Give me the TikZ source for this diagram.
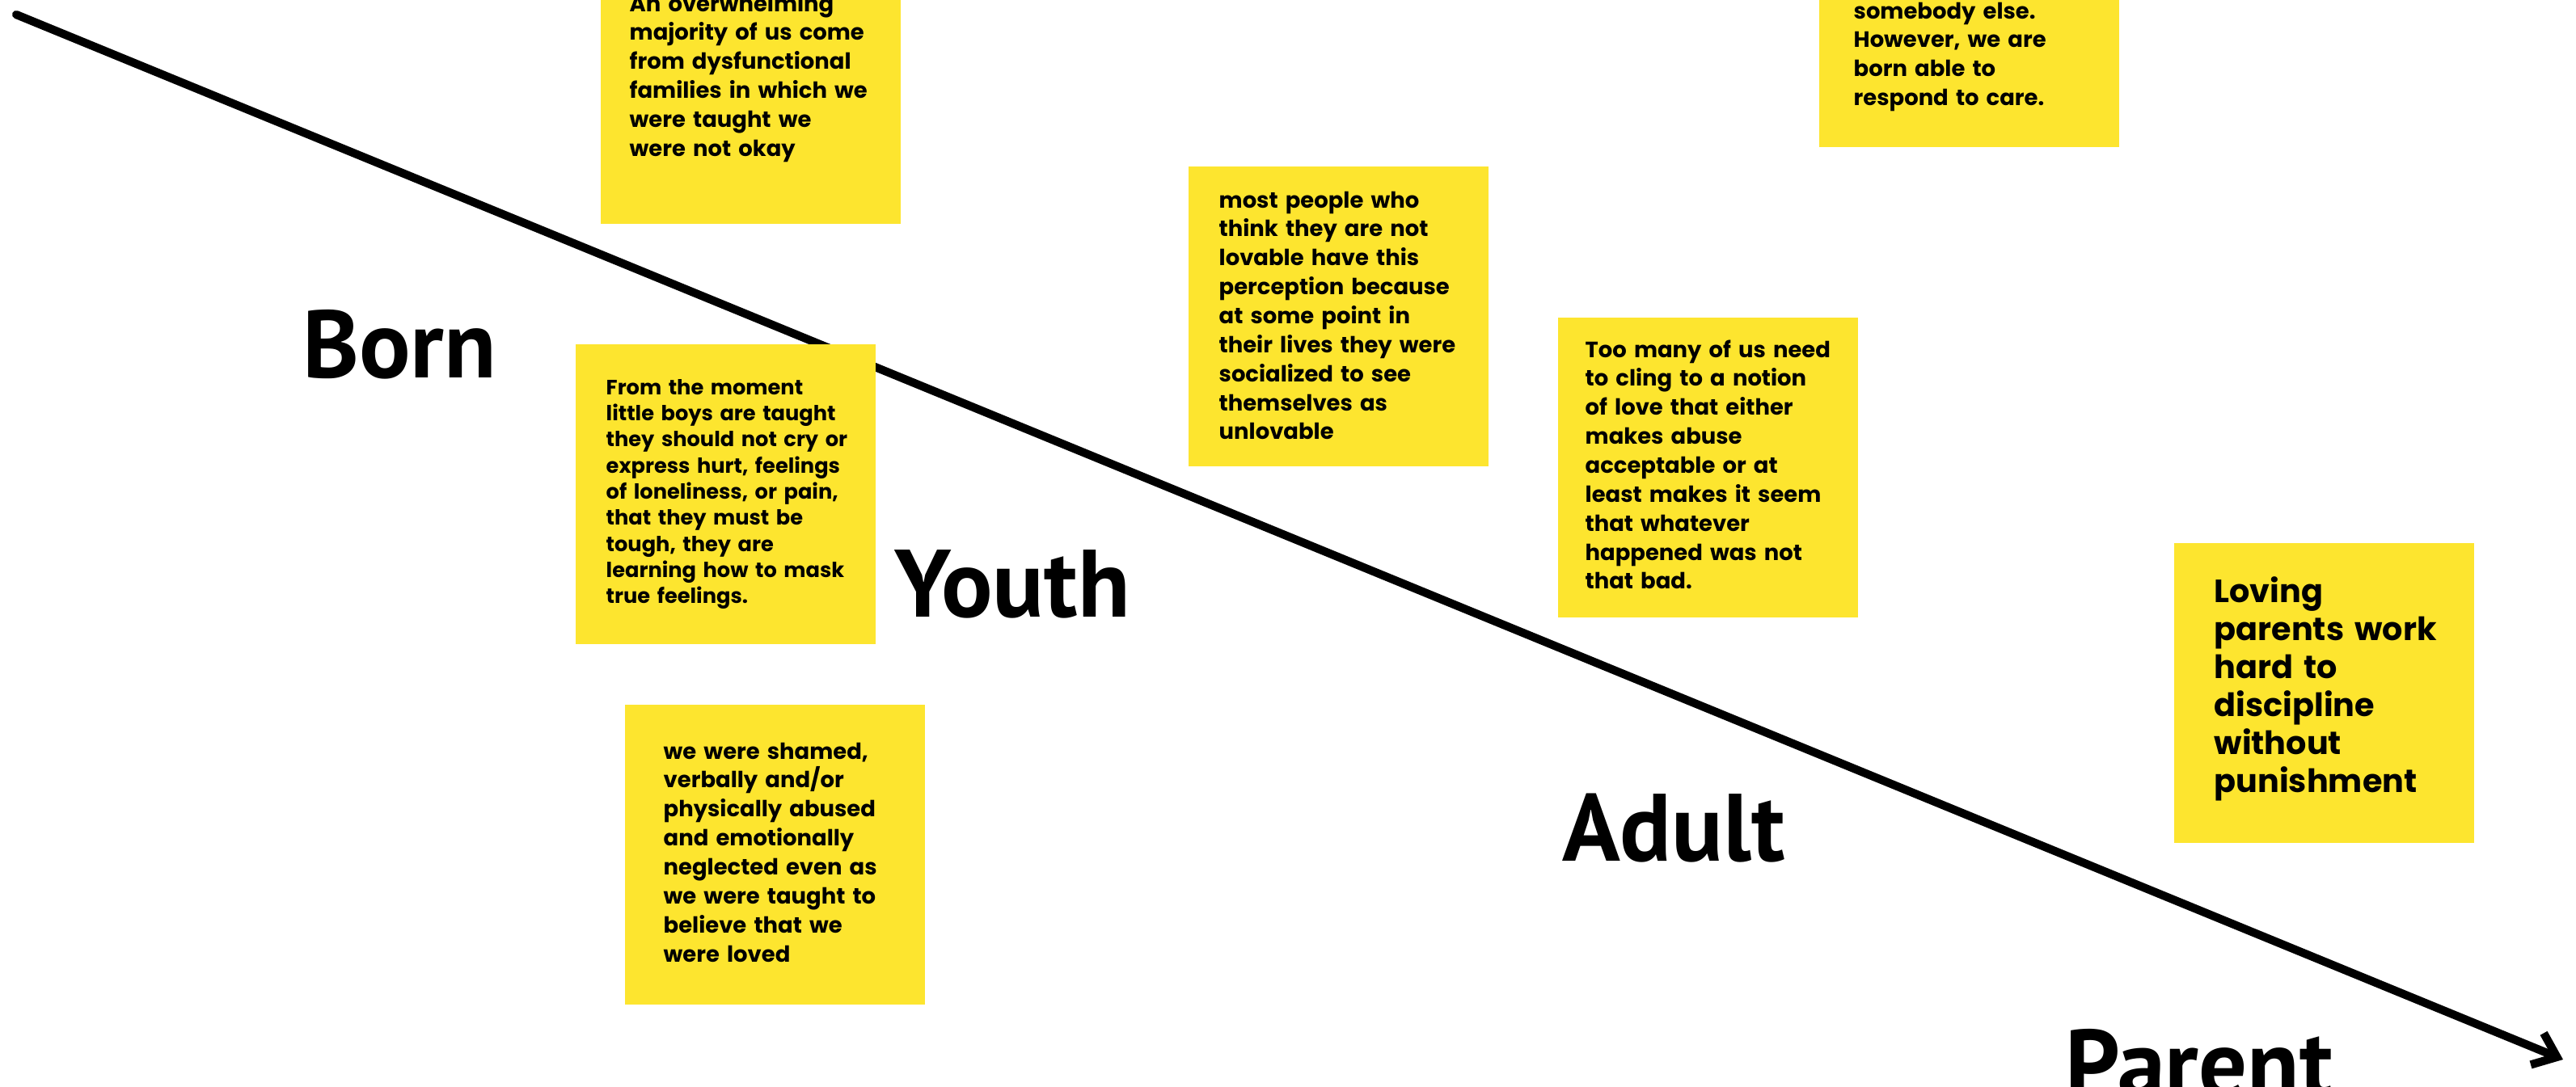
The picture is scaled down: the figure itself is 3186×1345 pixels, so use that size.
\documentclass[tikz,border=0pt]{standalone}
\usepackage{fontspec}
\newfontfamily\notefont{Poppins}
\newfontfamily\stagefont{PT Sans}
\usepackage{tikz}
\usetikzlibrary{arrows.meta}
\definecolor{noteyellow}{RGB}{253,229,47}
\tikzset{
  note/.style={fill=noteyellow, minimum width=3.71cm, minimum height=3.71cm, anchor=north west, inner sep=0pt},
  notetext/.style={anchor=base west, inner sep=0pt, align=left, text width=3.5cm, font=\notefont\bfseries\fontsize{7.8}{10.2}\selectfont},
  stage/.style={anchor=base, inner sep=0pt, font=\stagefont\bfseries\fontsize{33.7}{40}\selectfont}
}

\begin{document}
\begin{tikzpicture}[line cap=round,line join=round,>={Straight Barb[length=7.5pt,width=12pt]},x=0.01cm,y=-0.01cm]
\fill[white] (0,0) rectangle (3186,1345);
\useasboundingbox (0,0) rectangle (3186,1345);
\coordinate (start) at (20,18);
\coordinate (end) at (3170,1311);
\draw [->, line width=2.9pt] (start) -- (end);
\node[stage] (born) at (494,467) {Born};
\node[stage] (youth) at (1252,763) {Youth};
\node[stage] (adult) at (2070,1065) {Adult};
\node[stage] (parent) at (2720,1357) {Parent};
\node[note] (n1) at (742,-95) {};
\node[notetext] at ([shift={(36,109)}]n1.north west) {An overwhelming\\majority of us come\\from dysfunctional\\families in which we\\were taught we\\were not okay};
\node[note] (n2) at (711,425) {};
\node[notetext, font=\notefont\bfseries\fontsize{7.3}{9.2}\selectfont] at ([shift={(38,63)}]n2.north west) {From the moment\\little boys are taught\\they should not cry or\\express hurt, feelings\\of loneliness, or pain,\\that they must be\\tough, they are\\learning how to mask\\true feelings.};
\node[note] (n3) at (772,871) {};
\node[notetext] at ([shift={(48,68)}]n3.north west) {we were shamed,\\verbally and/or\\physically abused\\and emotionally\\neglected even as\\we were taught to\\believe that we\\were loved};
\node[note] (n4) at (1469,205) {};
\node[notetext] at ([shift={(38,52)}]n4.north west) {most people who\\think they are not\\lovable have this\\perception because\\at some point in\\their lives they were\\socialized to see\\themselves as\\unlovable};
\node[note] (n5) at (1926,392) {};
\node[notetext] at ([shift={(34,50)}]n5.north west) {Too many of us need\\to cling to a notion\\of love that either\\makes abuse\\acceptable or at\\least makes it seem\\that whatever\\happened was not\\that bad.};
\node[note] (n6) at (2249,-190) {};
\node[notetext] at ([shift={(43,213)}]n6.north west) {somebody else.\\However, we are\\born able to\\respond to care.};
\node[note] (n7) at (2688,671) {};
\node[notetext, font=\notefont\bfseries\fontsize{11.3}{13.4}\selectfont] at ([shift={(50,74)}]n7.north west) {Loving\\parents work\\hard to\\discipline\\without\\punishment};
\end{tikzpicture}
\end{document}
